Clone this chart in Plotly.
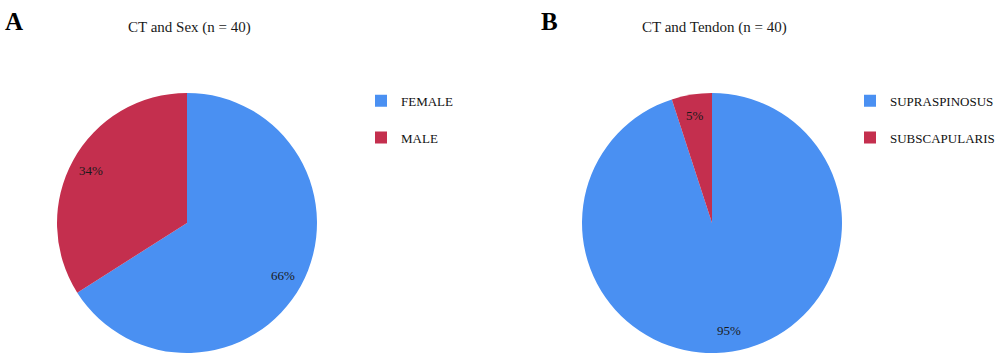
import math
import plotly.graph_objects as go

sex_labels = ["FEMALE", "MALE"]
sex_values = [66, 34]
tendon_labels = ["SUPRASPINOSUS", "SUBSCAPULARIS"]
tendon_values = [95, 5]
colors = ["#4A90F2", "#C42F4E"]
titles = ["CT and Sex (n = 40)", "CT and Tendon (n = 40)"]
panel_letters = ["A", "B"]

FONT = "Liberation Serif"
W, H = 1000, 353
domains = [dict(x=[0.057, 0.317], y=[0.0, 0.7365]),
           dict(x=[0.582, 0.842], y=[0.0, 0.7365])]
LABEL_R = 0.84  # fraction of radius where percent labels sit

fig = go.Figure()
annotations = []
for i, (labels, values, dom, leg) in enumerate([
        (sex_labels, sex_values, domains[0], "legend"),
        (tendon_labels, tendon_values, domains[1], "legend2")]):
    fig.add_trace(go.Pie(
        labels=[l + "<br> " for l in labels], values=values,
        marker=dict(colors=colors, line=dict(width=0)),
        sort=False, direction="clockwise", rotation=0,
        textinfo="none",
        domain=dom, legend=leg, hoverinfo="label+percent",
    ))
    # percent labels along slice bisectors
    cx = (dom["x"][0] + dom["x"][1]) / 2 * W
    cy_from_top = H - (dom["y"][0] + dom["y"][1]) / 2 * H
    R = (dom["x"][1] - dom["x"][0]) * W / 2
    total = sum(values)
    cum = 0
    for v in values:
        mid = (cum + v / 2) / total * 2 * math.pi
        cum += v
        px = cx + LABEL_R * R * math.sin(mid)
        py = cy_from_top - LABEL_R * R * math.cos(mid)
        annotations.append(dict(
            text=f"{round(100 * v / total)}%", x=px / W, y=1 - py / H,
            xref="paper", yref="paper", xanchor="center", yanchor="middle",
            showarrow=False, font=dict(family=FONT, size=13, color="#1a1a1a")))

for t, cxf in zip(titles, [0.189, 0.714]):
    annotations.append(dict(text=t, x=cxf, y=1 - 28 / H, xref="paper", yref="paper",
                            xanchor="center", yanchor="middle", showarrow=False,
                            font=dict(family=FONT, size=15, color="#1a1a1a")))
for letter, lx in zip(panel_letters, [0.003, 0.539]):
    annotations.append(dict(text="<b>" + letter + "</b>", x=lx, y=1 - 21 / H,
                            xref="paper", yref="paper", xanchor="left", yanchor="middle",
                            showarrow=False, font=dict(family=FONT, size=25, color="#000")))

legend_style = dict(font=dict(family=FONT, size=13, color="#111"),
                    bgcolor="rgba(0,0,0,0)", valign="top",
                    yanchor="top", itemclick=False)
fig.update_layout(
    width=W, height=H,
    margin=dict(l=0, r=0, t=0, b=0),
    paper_bgcolor="white", plot_bgcolor="white",
    legend=dict(x=0.361, y=0.757, xanchor="left", **legend_style),
    legend2=dict(x=1.0, y=0.757, xanchor="right", **legend_style),
    annotations=annotations,
)

fig.write_html("out.html")
